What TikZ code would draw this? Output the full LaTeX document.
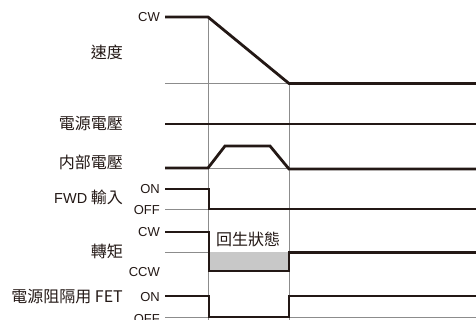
\documentclass[tikz,border=0pt]{standalone}
\usepackage{fontspec}
\setmainfont{Liberation Sans}
\newfontfamily\cjk{Noto Sans CJK TC}
\definecolor{sigc}{HTML}{231815}
\definecolor{gridc}{HTML}{8C8C8C}
\definecolor{regenc}{HTML}{C8C8C8}
\begin{document}
\begin{tikzpicture}[x=1pt,y=-1pt,
  sig/.style={line width=2.8pt, draw=sigc, line join=miter},
  gridln/.style={line width=0.7pt, draw=gridc},
  lab/.style={anchor=east, font=\fontsize{16}{17}\selectfont\cjk, inner sep=0pt, text=sigc},
  lvl/.style={anchor=east, font=\fontsize{13}{14}\selectfont, inner sep=0pt, text=sigc}]
\useasboundingbox (0,0) rectangle (476,320);
% grid
\draw[gridln] (165,83) -- (476,83);
\draw[gridln] (165,168) -- (476,168);
\draw[gridln] (165,209) -- (476,209);
\draw[gridln] (165,252) -- (476,252);
\draw[gridln] (165,317) -- (476,317);
\draw[gridln] (208.5,17) -- (208.5,320);
\draw[gridln] (289,83) -- (289,320);
% regen fill
\fill[regenc] (209,252) rectangle (289,271);
% signals
\draw[sig] (165,17) -- (208,17) -- (289,83.5) -- (476,83.5);
\draw[sig] (165,124) -- (476,124);
\draw[sig] (165,168) -- (208,168) -- (225,146) -- (270,146) -- (289,169) -- (476,169);
\draw[sig] (165,189) -- (209,189) -- (209,209) -- (476,209);
\draw[sig] (165,232) -- (209,232) -- (209,271) -- (289,271) -- (289,252.5) -- (476,252.5);
\draw[sig] (165,296) -- (209,296) -- (209,317) -- (289,317) -- (289,296) -- (476,296);
% labels
\node[lvl] (cw1) at (160,17) {CW};
\node[lab] (speed) at (123,52) {速度};
\node[lab] (supply) at (123,124) {電源電壓};
\node[lab] (internal) at (123,162) {内部電壓};
\node[lab] (fwd) at (123,197) {{\fontsize{14.5}{15}\selectfont\rmfamily FWD} 輸入};
\node[lvl] (on1) at (160,189) {ON};
\node[lvl] (off1) at (160,210) {OFF};
\node[lab] (torque) at (123,251) {轉矩};
\node[lvl] (cw2) at (160,232) {CW};
\node[lvl] (ccw) at (160,272) {CCW};
\node[lab] (fet) at (123,297) {電源阻隔用 FET};
\node[lvl] (on2) at (160,297) {ON};
\node[lvl] (off2) at (160,319) {OFF};
\node[anchor=west, font=\fontsize{16}{17}\selectfont\cjk, inner sep=0pt, text=sigc] (regen) at (216,239) {回生狀態};
\end{tikzpicture}
\end{document}
